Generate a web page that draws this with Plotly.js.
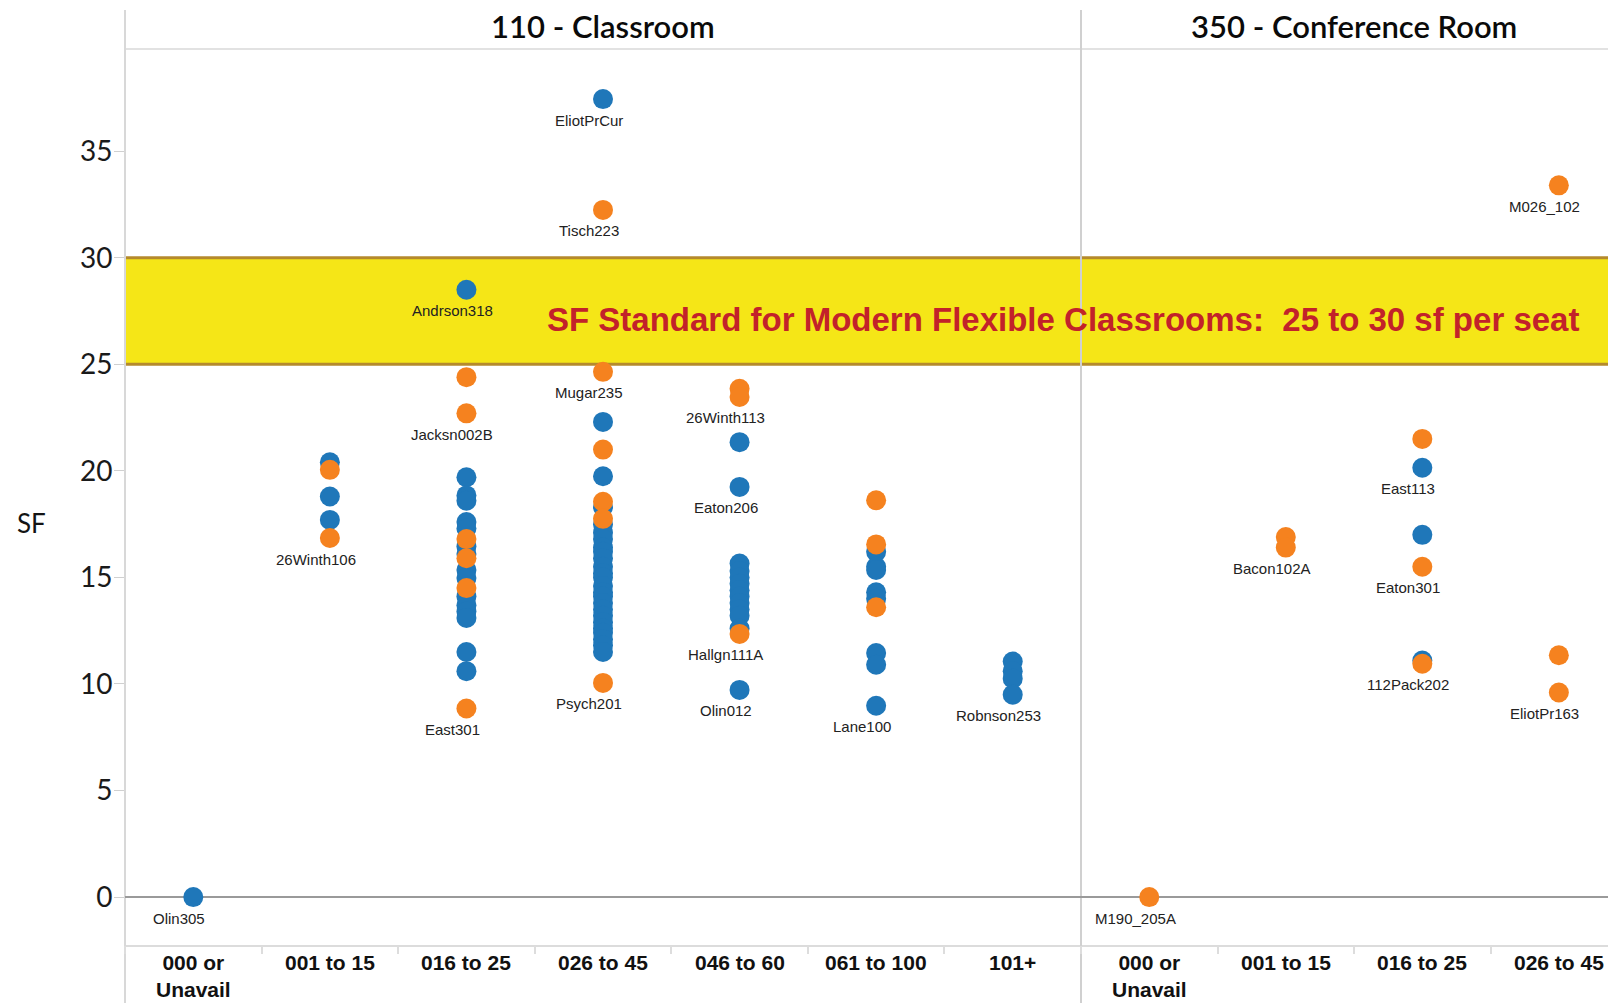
<!DOCTYPE html>
<html>
<head>
<meta charset="utf-8">
<script src="https://cdn.plot.ly/plotly-3.0.1.min.js"></script>
<style>
html,body{margin:0;padding:0;background:#ffffff;}
#chart{width:1608px;height:1003px;}
</style>
</head>
<body>
<div id="chart"></div>
<script>
// ---------- DATA ----------
const categories = ["000 or Unavail", "001 to 15", "016 to 25", "026 to 45", "046 to 60", "061 to 100", "101+"];
const categoryTickText = ["000 or<br>Unavail", "001 to 15", "016 to 25", "026 to 45", "046 to 60", "061 to 100", "101+"];
const panelTitles = ["110 - Classroom", "350 - Conference Room"];
const yTickValues = [0, 5, 10, 15, 20, 25, 30, 35];
const yAxisTitle = "SF";
const bandLow = 25;
const bandHigh = 30;
const bandText = "SF Standard for Modern Flexible Classrooms:\u00a0 25 to 30 sf per seat";

// SF per seat, one inner list per seat-count category (order = categories)
const classroomBlueSF = [
  [0],
  [20.4, 18.8, 17.7],
  [28.5, 19.7, 18.85, 18.6, 17.6, 17.3, 16.45, 16.1, 15.35, 14.97, 14.1, 13.7, 13.4, 13.1, 11.5, 10.6],
  [37.45, 22.3, 19.75, 18.3, 17.5, 17.1, 16.8, 16.4, 16.2, 15.9, 15.5, 15.2, 15.0, 14.6, 14.3, 14.1, 13.8, 13.5, 13.2, 12.9, 12.6, 12.4, 12.1, 11.8, 11.5],
  [21.35, 19.25, 15.65, 15.3, 15.0, 14.7, 14.4, 14.1, 13.8, 13.5, 13.2, 12.6, 9.72],
  [16.2, 15.5, 15.35, 14.3, 14.0, 11.45, 10.9, 8.98],
  [11.05, 10.6, 10.25, 9.5]
];
const classroomOrangeSF = [
  [],
  [20.05, 16.85],
  [24.4, 22.7, 16.8, 15.9, 14.5, 8.85],
  [32.25, 24.65, 21.0, 18.55, 17.75, 10.05],
  [23.85, 23.47, 12.35],
  [18.62, 16.55, 13.6],
  []
];
const conferenceBlueSF = [
  [],
  [],
  [20.15, 17.0, 11.1],
  []
];
const conferenceOrangeSF = [
  [0],
  [16.9, 16.4],
  [21.5, 15.5, 10.95],
  [33.4, 11.35, 9.6]
];

// room labels: name, category index, SF value
const classroomLabelNames = ["Olin305", "26Winth106", "Andrson318", "Jacksn002B", "East301", "EliotPrCur", "Tisch223", "Mugar235", "Psych201", "26Winth113", "Eaton206", "Hallgn111A", "Olin012", "Lane100", "Robnson253"];
const classroomLabelCat = [0, 1, 2, 2, 2, 3, 3, 3, 3, 4, 4, 4, 4, 5, 6];
const classroomLabelSF = [0, 16.85, 28.5, 22.7, 8.85, 37.45, 32.25, 24.65, 10.05, 23.47, 19.25, 12.35, 9.72, 8.98, 9.5];

const conferenceLabelNames = ["M190_205A", "Bacon102A", "East113", "Eaton301", "112Pack202", "M026_102", "EliotPr163"];
const conferenceLabelCat = [0, 1, 2, 2, 2, 3, 3];
const conferenceLabelSF = [0, 16.4, 20.15, 15.5, 10.95, 33.4, 9.6];

// ---------- STYLE / LAYOUT ----------
const W = 1608, H = 1003;
const px = v => v / W;
const py = v => 1 - v / H;
const plotLeft = 125, divider = 1081, plotTop = 49, plotBottom = 945;
const BLUE = "#1F77B9";
const ORANGE = "#F5821F";
const HEAD_FONT = "Lato, 'Open Sans', sans-serif";
const ARIAL = "'Liberation Sans', Arial, sans-serif";

function flatten(nested) {
  const xs = [], ys = [];
  nested.forEach((vals, i) => vals.forEach(v => { xs.push(categories[i]); ys.push(v); }));
  return {xs, ys};
}

function markerTrace(nested, color, xaxis) {
  const f = flatten(nested);
  return {
    type: "scatter", mode: "markers", x: f.xs, y: f.ys,
    xaxis: xaxis, yaxis: "y",
    marker: {color: color, size: 20, line: {width: 0}},
    hoverinfo: "x+y", cliponaxis: false
  };
}

const traces = [
  markerTrace(classroomBlueSF, BLUE, "x"),
  markerTrace(conferenceBlueSF, BLUE, "x2"),
  markerTrace(classroomOrangeSF, ORANGE, "x"),
  markerTrace(conferenceOrangeSF, ORANGE, "x2")
];

const annotations = [];
// panel titles
annotations.push({xref: "paper", yref: "paper", x: px(603), y: py(26), xanchor: "center", yanchor: "middle",
  text: panelTitles[0], showarrow: false, font: {family: HEAD_FONT, size: 31, weight: 600, color: "#0a0a0a"}});
annotations.push({xref: "paper", yref: "paper", x: px(1354), y: py(26), xanchor: "center", yanchor: "middle",
  text: panelTitles[1], showarrow: false, font: {family: HEAD_FONT, size: 31, weight: 600, color: "#0a0a0a"}});
// y title
annotations.push({xref: "paper", yref: "paper", x: px(31), y: py(523), xanchor: "center", yanchor: "middle",
  text: yAxisTitle, showarrow: false, font: {family: HEAD_FONT, size: 26, color: "#141414"}});
// band text
annotations.push({xref: "paper", yref: "y", x: px(1063), y: (bandLow + bandHigh) / 2, yshift: -8,
  xanchor: "center", yanchor: "middle",
  text: "<b>" + bandText + "</b>", showarrow: false,
  font: {family: ARIAL, size: 33, color: "#C2222A"}});
// category labels
function addCatLabels(xref, count) {
  for (let i = 0; i < count; i++) {
    annotations.push({xref: xref, yref: "paper", x: categories[i], y: py(949), xanchor: "center", yanchor: "top",
      text: "<b>" + categoryTickText[i] + "</b>", showarrow: false,
      font: {family: ARIAL, size: 21, color: "#111"}});
  }
}
addCatLabels("x", 7);
addCatLabels("x2", 4);
// room labels
function addRoomLabels(xref, names, cats, vals) {
  names.forEach((n, i) => {
    annotations.push({xref: xref, yref: "y", x: categories[cats[i]], y: vals[i], xshift: -14, yshift: -21,
      xanchor: "center", yanchor: "middle",
      text: n, showarrow: false,
      font: {family: ARIAL, size: 15, color: "#222"}});
  });
}
addRoomLabels("x", classroomLabelNames, classroomLabelCat, classroomLabelSF);
addRoomLabels("x2", conferenceLabelNames, conferenceLabelCat, conferenceLabelSF);

const shapes = [
  {type: "rect", layer: "below", xref: "paper", yref: "y", x0: px(plotLeft), x1: 1, y0: bandLow, y1: bandHigh,
    fillcolor: "#F5E617", line: {width: 0}},
  {type: "line", layer: "below", xref: "paper", yref: "y", x0: px(plotLeft), x1: 1, y0: bandHigh, y1: bandHigh,
    line: {color: "#B58A2C", width: 3}},
  {type: "line", layer: "below", xref: "paper", yref: "y", x0: px(plotLeft), x1: 1, y0: bandLow, y1: bandLow,
    line: {color: "#B58A2C", width: 3}},
  {type: "line", layer: "below", xref: "paper", yref: "paper", x0: px(plotLeft), x1: 1, y0: py(plotTop), y1: py(plotTop),
    line: {color: "#e2e2e2", width: 2}},
  {type: "line", layer: "below", xref: "paper", yref: "paper", x0: px(plotLeft), x1: 1, y0: py(946), y1: py(946),
    line: {color: "#dcdcdc", width: 2}},
  {type: "line", layer: "below", xref: "paper", yref: "paper", x0: px(plotLeft), x1: px(plotLeft), y0: 0, y1: py(10),
    line: {color: "#d8d8d8", width: 2}},
  {type: "line", layer: "below", xref: "paper", yref: "paper", x0: px(divider), x1: px(divider), y0: 0, y1: py(10),
    line: {color: "#d0d0d0", width: 2}}
];

const xCommon = {
  type: "category", categoryorder: "array", categoryarray: categories,
  showticklabels: false, ticks: "outside", tickson: "boundaries", ticklen: 8, tickcolor: "#dddddd", tickwidth: 2,
  showgrid: false, zeroline: false, showline: false, fixedrange: true, anchor: "y"
};

const layout = {
  width: W, height: H,
  margin: {l: 0, r: 0, t: 0, b: 0},
  paper_bgcolor: "#ffffff", plot_bgcolor: "rgba(0,0,0,0)",
  showlegend: false,
  xaxis: Object.assign({}, xCommon, {domain: [px(plotLeft), px(divider)], range: [-0.5, 6.5]}),
  xaxis2: Object.assign({}, xCommon, {domain: [px(divider), 1], range: [-0.5, 3.36]}),
  yaxis: {
    domain: [py(plotBottom), py(plotTop)], range: [-2.25, 39.8],
    tickvals: yTickValues, ticks: "outside", ticklen: 10, tickcolor: "#d0d0d0", tickwidth: 1,
    ticklabelstandoff: -4,
    tickfont: {family: HEAD_FONT, size: 28, color: "#1a1a1a"},
    showgrid: false, zeroline: true, zerolinecolor: "#9a9a9a", zerolinewidth: 2,
    showline: false, fixedrange: true, anchor: "x"
  },
  shapes: shapes,
  annotations: annotations
};

Plotly.newPlot("chart", traces, layout, {displayModeBar: false, staticPlot: true});
</script>
</body>
</html>
